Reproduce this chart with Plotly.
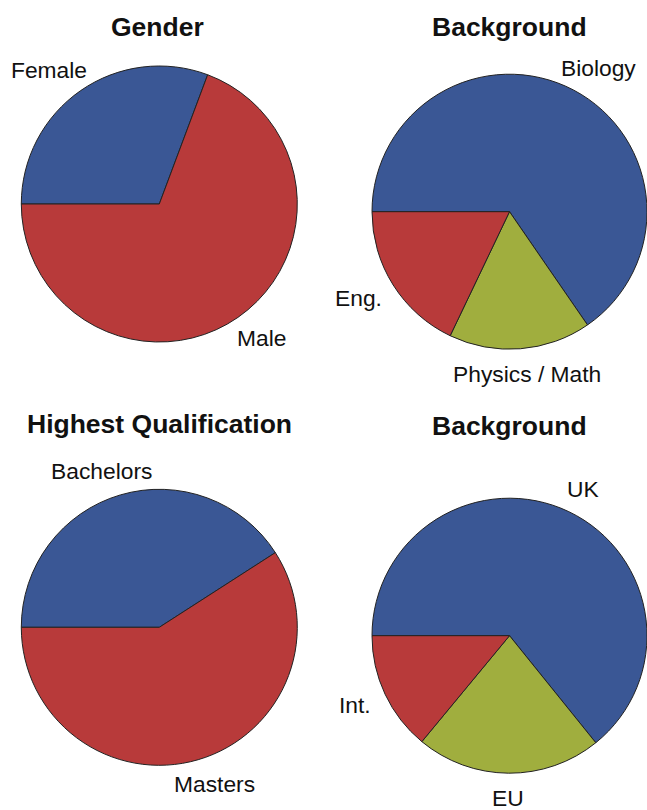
import math
import plotly.graph_objects as go

# ---- data ----
gender_labels = ["Female", "Male"]
gender_values = [30.7, 69.3]

background_labels = ["Biology", "Physics / Math", "Eng."]
background_values = [65.4, 16.7, 17.9]

qual_labels = ["Bachelors", "Masters"]
qual_values = [40.9, 59.1]

origin_labels = ["UK", "EU", "Int."]
origin_values = [64.2, 21.8, 14.0]

titles = ["Gender", "Background", "Highest Qualification", "Background"]

BLUE = "#3a5795"
RED = "#b83a3a"
GREEN = "#a0ae3e"

W, H = 647, 810
FONT = "Liberation Sans, Arial, sans-serif"
LABEL_SIZE = 22.8
TITLE_SIZE = 26.5
GAP = 17.0      # gap between pie edge and label box
HALF_H = 8.0    # half the label's cap height

# Arial / Liberation Sans advance widths (per 1000 em) used to size the label boxes
ADV = {" ": 278, ".": 278, "/": 278, "B": 667, "E": 667, "F": 611, "I": 278,
       "K": 667, "M": 833, "P": 667, "U": 722, "a": 556, "c": 500, "e": 556,
       "g": 556, "h": 556, "i": 222, "l": 222, "m": 833, "n": 556, "o": 556,
       "r": 333, "s": 500, "t": 278, "y": 500}


def text_width(s, size):
    return sum(ADV.get(ch, 556) for ch in s) / 1000.0 * size


panels = [
    dict(labels=gender_labels, values=gender_values, colors=[BLUE, RED],
         center=(159.3, 204.0), r=138.0, title_x=157.0, title_y=26.7),
    dict(labels=background_labels, values=background_values, colors=[BLUE, GREEN, RED],
         center=(509.5, 211.7), r=137.5, title_x=509.0, title_y=26.7),
    dict(labels=qual_labels, values=qual_values, colors=[BLUE, RED],
         center=(159.3, 627.3), r=138.0, title_x=159.0, title_y=424.0),
    dict(labels=origin_labels, values=origin_values, colors=[BLUE, GREEN, RED],
         center=(509.5, 635.7), r=137.5, title_x=509.0, title_y=426.0),
]

ROTATION = 270  # first slice starts at 9 o'clock, going clockwise

fig = go.Figure()
annotations = []
for i, p in enumerate(panels):
    cx, cy = p["center"]
    R = p["r"]
    fig.add_trace(go.Pie(
        labels=p["labels"], values=p["values"], sort=False,
        direction="clockwise", rotation=ROTATION,
        marker=dict(colors=p["colors"], line=dict(color="#222222", width=1)),
        textinfo="none", hoverinfo="label+percent", showlegend=False,
        domain=dict(x=[max(0, (cx - R) / W), min(1, (cx + R) / W)],
                    y=[1 - (cy + R) / H, 1 - (cy - R) / H]),
    ))
    # title
    annotations.append(dict(
        text="<b>%s</b>" % titles[i], x=p["title_x"] / W, y=1 - p["title_y"] / H,
        xref="paper", yref="paper", xanchor="center", yanchor="middle",
        showarrow=False, font=dict(size=TITLE_SIZE, color="#111111", family=FONT),
    ))
    # slice labels just outside the slice's mid-angle
    total = sum(p["values"])
    start = ROTATION
    for lab, v in zip(p["labels"], p["values"]):
        span = 360.0 * v / total
        mid = math.radians(start + span / 2)
        s, c = math.sin(mid), math.cos(mid)
        w = text_width(lab, LABEL_SIZE)
        lx = cx + (R + GAP) * s + s * w / 2
        ly = cy - (R + GAP) * c - c * HALF_H
        annotations.append(dict(
            text=lab, x=lx / W, y=1 - ly / H, xref="paper", yref="paper",
            xanchor="center", yanchor="middle", showarrow=False,
            font=dict(size=LABEL_SIZE, color="#111111", family=FONT),
        ))
        start += span

fig.update_layout(
    width=W, height=H, margin=dict(l=0, r=0, t=0, b=0),
    paper_bgcolor="white", plot_bgcolor="white",
    annotations=annotations,
)

fig.write_html("out.html", config={"displayModeBar": False},
               post_script="document.body.style.margin='0';document.body.style.overflow='hidden';")
